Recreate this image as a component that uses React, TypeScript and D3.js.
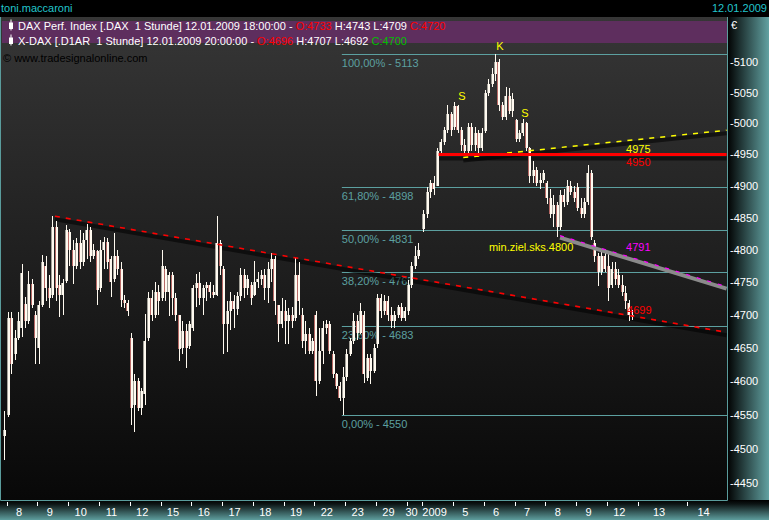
import { useEffect, useRef } from "react";
import * as d3 from "d3";

// open, high, low, close
type Bar = [number, number, number, number];

const dec05: Bar[] = [[4518, 4555, 4483, 4527]];
const dec08: Bar[] = [
  [4550, 4704, 4547, 4694], [4695, 4704, 4610, 4625], [4640, 4676, 4631, 4665],
  [4665, 4704, 4661, 4690], [4680, 4777, 4666, 4764], [4716, 4726, 4680, 4690],
  [4690, 4767, 4686, 4747], [4747, 4755, 4710, 4715], [4700, 4706, 4625, 4665],
];
const dec09: Bar[] = [
  [4650, 4721, 4625, 4715], [4715, 4792, 4711, 4780], [4775, 4790, 4720, 4740],
  [4740, 4760, 4710, 4725], [4730, 4852, 4725, 4835], [4835, 4845, 4720, 4740],
  [4745, 4760, 4696, 4730], [4730, 4755, 4700, 4748], [4752, 4838, 4748, 4830],
];
const dec10: Bar[] = [
  [4828, 4832, 4775, 4800], [4800, 4815, 4747, 4775], [4775, 4818, 4770, 4810],
  [4810, 4830, 4770, 4780], [4780, 4825, 4775, 4815], [4815, 4840, 4785, 4830],
  [4830, 4835, 4780, 4790], [4790, 4808, 4785, 4800], [4798, 4800, 4714, 4738],
];
const dec11: Bar[] = [
  [4740, 4815, 4735, 4800], [4800, 4820, 4770, 4812], [4812, 4818, 4770, 4780],
  [4785, 4790, 4727, 4750], [4755, 4825, 4750, 4790], [4790, 4800, 4760, 4770],
  [4770, 4780, 4712, 4722], [4722, 4730, 4710, 4718], [4718, 4722, 4698, 4705],
];
const dec12: Bar[] = [
  [4665, 4672, 4535, 4560], [4565, 4610, 4525, 4600], [4600, 4605, 4555, 4560],
  [4560, 4590, 4550, 4585], [4580, 4701, 4565, 4660], [4665, 4735, 4660, 4725],
  [4725, 4738, 4690, 4700], [4700, 4750, 4695, 4735], [4735, 4745, 4700, 4720],
];
const dec15: Bar[] = [
  [4725, 4800, 4720, 4775], [4770, 4775, 4720, 4735], [4735, 4765, 4698, 4760],
  [4760, 4765, 4700, 4725], [4725, 4733, 4690, 4700], [4700, 4700, 4630, 4648],
  [4650, 4690, 4640, 4675], [4675, 4685, 4620, 4650], [4652, 4690, 4648, 4685],
];
const dec16: Bar[] = [
  [4680, 4745, 4675, 4740], [4740, 4762, 4712, 4748], [4748, 4765, 4715, 4725],
  [4725, 4745, 4700, 4740], [4740, 4750, 4720, 4745], [4745, 4750, 4725, 4735],
  [4735, 4745, 4725, 4730], [4730, 4852, 4728, 4810], [4810, 4815, 4760, 4775],
];
const dec17: Bar[] = [
  [4770, 4775, 4640, 4685], [4685, 4720, 4643, 4705], [4705, 4735, 4676, 4720],
  [4720, 4730, 4680, 4708], [4708, 4735, 4700, 4728], [4728, 4772, 4720, 4760],
  [4760, 4770, 4725, 4740], [4740, 4760, 4730, 4755], [4745, 4750, 4715, 4725],
];
const dec18: Bar[] = [
  [4730, 4782, 4728, 4750], [4750, 4765, 4740, 4755], [4755, 4768, 4745, 4760],
  [4760, 4770, 4722, 4740], [4740, 4780, 4718, 4770], [4770, 4795, 4750, 4785],
  [4785, 4790, 4700, 4720], [4715, 4715, 4658, 4685], [4685, 4725, 4680, 4705],
];
const dec19: Bar[] = [
  [4705, 4722, 4655, 4690], [4690, 4710, 4655, 4700], [4700, 4712, 4680, 4690],
  [4695, 4787, 4690, 4760], [4760, 4780, 4700, 4720], [4700, 4710, 4650, 4660],
  [4660, 4690, 4640, 4670], [4670, 4680, 4640, 4645], [4645, 4665, 4640, 4660],
];
const dec22: Bar[] = [
  [4700, 4705, 4578, 4600], [4600, 4680, 4595, 4645], [4645, 4690, 4625, 4680],
  [4680, 4692, 4670, 4685], [4685, 4690, 4640, 4645], [4640, 4645, 4605, 4610],
  [4610, 4612, 4588, 4592], [4592, 4598, 4570, 4575], [4575, 4621, 4550, 4606],
];
const dec23: Bar[] = [
  [4606, 4648, 4600, 4640], [4640, 4665, 4638, 4660], [4660, 4703, 4655, 4690],
  [4690, 4700, 4662, 4672], [4672, 4718, 4670, 4705], [4700, 4705, 4597, 4610],
  [4605, 4640, 4600, 4635], [4635, 4640, 4595, 4615], [4615, 4655, 4612, 4650],
];
const dec29: Bar[] = [
  [4655, 4732, 4650, 4725], [4725, 4732, 4695, 4705], [4705, 4730, 4700, 4720],
  [4720, 4728, 4690, 4700], [4700, 4712, 4680, 4690], [4690, 4705, 4680, 4700],
  [4700, 4715, 4695, 4712], [4712, 4718, 4690, 4695], [4695, 4712, 4690, 4705],
];
const dec30: Bar[] = [
  [4705, 4753, 4700, 4745], [4745, 4780, 4740, 4775], [4775, 4805, 4770, 4790],
  [4790, 4810, 4785, 4800],
];
const jan02: Bar[] = [
  [4832, 4862, 4828, 4856], [4856, 4898, 4850, 4890], [4890, 4910, 4880, 4905],
  [4905, 4915, 4885, 4895], [4900, 4960, 4900, 4955], [4955, 4975, 4950, 4970],
  [4970, 4995, 4965, 4990], [4990, 5030, 4985, 5015], [5015, 5018, 4980, 4990],
];
const jan05: Bar[] = [
  [4995, 5035, 4990, 5028], [5028, 5030, 4985, 4990], [4990, 4995, 4955, 4965],
  [4965, 4975, 4950, 4955], [4955, 5000, 4950, 4995], [4995, 5000, 4955, 4965],
  [4965, 4995, 4955, 4985], [4985, 4990, 4952, 4960], [4960, 4992, 4955, 4985],
];
const jan06: Bar[] = [
  [4988, 5055, 4985, 5050], [5050, 5072, 5045, 5065], [5065, 5090, 5060, 5080],
  [5080, 5113, 5070, 5100], [5100, 5105, 5020, 5030], [5030, 5035, 5005, 5010],
  [5010, 5060, 5005, 5045], [5045, 5058, 5015, 5020], [5020, 5050, 5010, 5040],
];
const jan07: Bar[] = [
  [5005, 5008, 4970, 4975], [4975, 4990, 4970, 4985], [4985, 5008, 4980, 5000],
  [5000, 5003, 4955, 4960], [4960, 4962, 4905, 4915], [4915, 4940, 4905, 4925],
  [4925, 4930, 4900, 4905], [4905, 4920, 4895, 4910], [4910, 4925, 4905, 4920],
];
const jan08: Bar[] = [
  [4905, 4908, 4872, 4880], [4880, 4895, 4850, 4855], [4855, 4885, 4835, 4870],
  [4870, 4875, 4820, 4835], [4835, 4893, 4830, 4885], [4885, 4895, 4866, 4875],
  [4875, 4910, 4870, 4900], [4900, 4908, 4885, 4890], [4890, 4900, 4875, 4880],
];
const jan09: Bar[] = [
  [4898, 4905, 4860, 4865], [4865, 4880, 4850, 4855], [4855, 4880, 4850, 4875],
  [4875, 4933, 4870, 4920], [4920, 4925, 4815, 4820], [4810, 4815, 4780, 4790],
  [4790, 4795, 4743, 4765], [4765, 4797, 4760, 4790], [4790, 4800, 4765, 4770],
];
const jan12: Bar[] = [
  [4775, 4795, 4720, 4740], [4745, 4780, 4740, 4770], [4770, 4780, 4745, 4755],
  [4760, 4770, 4740, 4745], [4745, 4760, 4728, 4735], [4733, 4743, 4709, 4720],
  [4718, 4722, 4690, 4700], [4696, 4707, 4692, 4700],
];

const sessions = [dec05, dec08, dec09, dec10, dec11, dec12, dec15, dec16, dec17, dec18, dec19,
  dec22, dec23, dec29, dec30, jan02, jan05, jan06, jan07, jan08, jan09, jan12];
const sessionStarts = [-1, 0, 9, 18, 27, 36, 45, 54, 63, 72, 81, 90, 99, 108, 117,
  121.5, 130.5, 139.5, 148.5, 157.5, 166.5, 175.5];

const dayLabels = ["8", "9", "10", "11", "12", "15", "16", "17", "18", "19", "22", "23", "29",
  "30", "2009", "5", "6", "7", "8", "9", "12", "13", "14"];
const daySlots = [0, 9, 18, 27, 36, 45, 54, 63, 72, 81, 90, 99, 108, 117, 121.5, 130.5,
  139.5, 148.5, 157.5, 166.5, 175.5, 184.5, 198.8];
const slotEnd = 210.5;

const yTicks = [5100, 5050, 5000, 4950, 4900, 4850, 4800, 4750, 4700, 4650, 4600, 4550, 4500, 4450];

const fibPercents = [100, 61.8, 50, 38.2, 23.6, 0];
const fibPrices = [5113, 4898, 4831, 4765, 4683, 4550];
const fibStart = 98;

// [slot, price] end points
const downTrend = [[14.1, 4852], [210.5, 4673]];
const neckline = [[126.3, 4950], [210.5, 4950]];
const upperLine = [[133.5, 4945], [210.5, 4989]];
const targetLine = [[161.8, 4820], [210.5, 4741]];

const notes = [
  { t: 141, p: 4797, text: "min.ziel.sks.4800", color: "#ffff00", anchor: "start" },
  { t: 181.1, p: 4797, text: "4791", color: "#ff00ff", anchor: "start" },
  { t: 181.1, p: 4952, text: "4975", color: "#ffff00", anchor: "start" },
  { t: 181.1, p: 4931, text: "4950", color: "#ff0000", anchor: "start" },
  { t: 181.4, p: 4701, text: "4699", color: "#ff0000", anchor: "start" },
  { t: 133.1, p: 5038, text: "S", color: "#ffff00", anchor: "middle" },
  { t: 144.2, p: 5120, text: "K", color: "#ffff00", anchor: "middle" },
  { t: 151.5, p: 5011, text: "S", color: "#ffff00", anchor: "middle" },
];

const W = 769;
const H = 520;
const FONT = "'Liberation Sans', Arial, sans-serif";

export default function App() {
  const svgRef = useRef<SVGSVGElement>(null);

  useEffect(() => {
    document.body.style.margin = "0";
    if (!svgRef.current) return;
    const svg = d3.select(svgRef.current);
    svg.selectAll("*").remove();

    const plot = { left: 0, right: 727, top: 17, bottom: 500 };
    const x = d3.scaleLinear().domain([0, slotEnd]).range([6.7, 726.6]);
    const y = d3.scaleLog().domain([4450, 5100]).range([483.3, 62.3]);
    const step = x(1) - x(0);

    const defs = svg.append("defs");
    const bg = defs.append("linearGradient").attr("id", "bg").attr("x1", 0).attr("y1", 0).attr("x2", 0).attr("y2", 1);
    bg.append("stop").attr("offset", 0).attr("stop-color", "#363636");
    bg.append("stop").attr("offset", 1).attr("stop-color", "#080808");
    const side = defs.append("linearGradient").attr("id", "side").attr("x1", 0).attr("y1", 0).attr("x2", 1).attr("y2", 0);
    side.append("stop").attr("offset", 0).attr("stop-color", "#000000");
    side.append("stop").attr("offset", 1).attr("stop-color", "#62a2a2");
    const foot = defs.append("linearGradient").attr("id", "foot").attr("x1", 0).attr("y1", 0).attr("x2", 0).attr("y2", 1);
    foot.append("stop").attr("offset", 0).attr("stop-color", "#000000");
    foot.append("stop").attr("offset", 0.2).attr("stop-color", "#0c1414");
    foot.append("stop").attr("offset", 1).attr("stop-color", "#5e9e9e");
    defs.append("clipPath").attr("id", "plotclip").append("rect")
      .attr("x", plot.left).attr("y", plot.top).attr("width", plot.right - plot.left).attr("height", plot.bottom - plot.top);

    // panels
    svg.append("rect").attr("width", W).attr("height", H).attr("fill", "#000");
    svg.append("rect").attr("x", plot.left).attr("y", plot.top)
      .attr("width", plot.right - plot.left).attr("height", plot.bottom - plot.top).attr("fill", "url(#bg)");
    svg.append("rect").attr("x", plot.right).attr("y", plot.top)
      .attr("width", W - plot.right).attr("height", plot.bottom - plot.top).attr("fill", "url(#side)");
    svg.append("rect").attr("x", 0).attr("y", plot.bottom)
      .attr("width", W).attr("height", H - plot.bottom).attr("fill", "url(#foot)");
    svg.append("path")
      .attr("d", `M${plot.left + 0.5},${plot.top}V${plot.bottom + 0.5}H${plot.right + 0.5}V${plot.top}`)
      .attr("fill", "none").attr("stroke", "#5a9c9c").attr("stroke-width", 1);

    // header
    svg.append("text").attr("x", 1).attr("y", 12).attr("fill", "#22c4cc")
      .attr("font-family", FONT).attr("font-size", 11).text("toni.maccaroni");
    svg.append("text").attr("x", 767).attr("y", 12).attr("text-anchor", "end").attr("fill", "#22c4cc")
      .attr("font-family", FONT).attr("font-size", 11).text("12.01.2009");
    svg.append("rect").attr("x", 2).attr("y", 21).attr("width", plot.right - 2).attr("height", 22).attr("fill", "#5e2e5e");

    const legend = [
      { y: 30, parts: [["DAX Perf. Index [.DAX  1 Stunde] 12.01.2009 18:00:00 - ", "#fff"], ["O:4733", "#ff0000"],
        [" H:4743 L:4709 ", "#fff"], ["C:4720", "#ff0000"]] },
      { y: 45, parts: [["X-DAX [.D1AR  1 Stunde] 12.01.2009 20:00:00 - ", "#fff"], ["O:4696", "#ff0000"],
        [" H:4707 L:4692 ", "#fff"], ["C:4700", "#00c000"]] },
    ];
    legend.forEach((row) => {
      svg.append("rect").attr("x", 10.5).attr("y", row.y - 10.5).attr("width", 1).attr("height", 11).attr("fill", "#fff");
      svg.append("rect").attr("x", 9).attr("y", row.y - 7.5).attr("width", 4).attr("height", 6.5).attr("fill", "#fff");
      const t = svg.append("text").attr("x", 18).attr("y", row.y).attr("font-family", FONT).attr("font-size", 11)
        .attr("xml:space", "preserve").style("white-space", "pre");
      row.parts.forEach(([s, c]) => t.append("tspan").attr("fill", c).text(s));
    });
    svg.append("text").attr("x", 3).attr("y", 62).attr("fill", "#000")
      .attr("font-family", FONT).attr("font-size", 11).text("\u00a9 www.tradesignalonline.com");
    svg.append("text").attr("x", 731).attr("y", 29).attr("fill", "#fff")
      .attr("font-family", FONT).attr("font-size", 11).text("\u20ac");

    // y axis labels
    svg.append("g").selectAll("text").data(yTicks).join("text")
      .attr("x", 730).attr("y", (d) => y(d) + 4)
      .attr("fill", "#fff").attr("font-family", FONT).attr("font-size", 11)
      .text((d) => `-${d}`);

    // x axis ticks + labels
    const xa = svg.append("g");
    xa.selectAll("line").data(daySlots).join("line")
      .attr("x1", (d) => Math.round(x(d)) + 0.5).attr("x2", (d) => Math.round(x(d)) + 0.5)
      .attr("y1", 502).attr("y2", 506).attr("stroke", "#fff");
    xa.selectAll("text").data(dayLabels).join("text")
      .attr("x", (d, i) => (x(daySlots[i]) + x(i + 1 < daySlots.length ? daySlots[i + 1] : slotEnd)) / 2 - 3)
      .attr("y", 516).attr("text-anchor", "middle")
      .attr("fill", "#fff").attr("font-family", FONT).attr("font-size", 11)
      .text((d) => d);

    const g = svg.append("g").attr("clip-path", "url(#plotclip)");

    // fibonacci levels
    g.selectAll("line.fib").data(fibPrices).join("line").attr("class", "fib")
      .attr("x1", x(fibStart)).attr("x2", plot.right)
      .attr("y1", (d) => Math.round(y(d)) + 0.5).attr("y2", (d) => Math.round(y(d)) + 0.5)
      .attr("stroke", "#5ca0a0").attr("stroke-width", 1.2);
    g.selectAll("text.fib").data(fibPrices).join("text").attr("class", "fib")
      .attr("x", x(fibStart)).attr("y", (d) => y(d) + 13)
      .attr("fill", "#5ca0a0").attr("font-family", FONT).attr("font-size", 11)
      .text((d, i) => `${fibPercents[i].toFixed(2).replace(".", ",")}% - ${d}`);

    const seg = (pts: number[][], dy = 0) =>
      `M${x(pts[0][0])},${y(pts[0][1]) + dy}L${x(pts[1][0])},${y(pts[1][1]) + dy}`;

    // shadows
    [downTrend, upperLine].forEach((l) =>
      g.append("path").attr("d", seg(l, 3)).attr("stroke", "#000").attr("stroke-opacity", 0.55)
        .attr("stroke-width", 4).attr("fill", "none"));
    g.append("path").attr("d", seg(neckline, 4)).attr("stroke", "#000").attr("stroke-opacity", 0.55)
      .attr("stroke-width", 4).attr("fill", "none");

    // candles
    const candles = sessions.flatMap((bars, si) =>
      bars.map((b, j) => ({ t: sessionStarts[si] + j, o: b[0], h: b[1], l: b[2], c: b[3] })));
    const cg = g.append("g").attr("shape-rendering", "crispEdges");
    cg.selectAll("rect.wick").data(candles).join("rect").attr("class", "wick")
      .attr("x", (d) => Math.round(x(d.t) + step / 2 - 0.5)).attr("width", 1)
      .attr("y", (d) => y(d.h)).attr("height", (d) => Math.max(1, y(d.l) - y(d.h)))
      .attr("fill", "#fffaf0");
    cg.selectAll("rect.body").data(candles).join("rect").attr("class", "body")
      .attr("x", (d) => Math.round(x(d.t))).attr("width", 3)
      .attr("y", (d) => y(Math.max(d.o, d.c)))
      .attr("height", (d) => Math.max(1, Math.abs(y(d.o) - y(d.c))))
      .attr("fill", "#fffaf0");
    cg.selectAll("rect.edge").data(candles).join("rect").attr("class", "edge")
      .attr("x", (d) => Math.round(x(d.t))).attr("width", 1)
      .attr("y", (d) => y(Math.max(d.o, d.c)))
      .attr("height", (d) => Math.max(1, Math.abs(y(d.o) - y(d.c))))
      .attr("fill", (d) => (d.c >= d.o ? "#a3a199" : "#b86a66"));

    // trend lines
    g.append("path").attr("d", seg(downTrend)).attr("stroke", "#ff0000").attr("stroke-width", 1.6)
      .attr("stroke-dasharray", "5,6").attr("fill", "none");
    g.append("path").attr("d", seg(upperLine)).attr("stroke", "#ffff00").attr("stroke-width", 1.5)
      .attr("stroke-dasharray", "5,6").attr("fill", "none");
    g.append("path").attr("d", seg(neckline)).attr("stroke", "#ff0000").attr("stroke-width", 3).attr("fill", "none");
    g.append("path").attr("d", seg(targetLine, 1)).attr("stroke", "#8a8a8a").attr("stroke-width", 4).attr("fill", "none");
    g.append("path").attr("d", seg(targetLine, -1)).attr("stroke", "#ff00ff").attr("stroke-width", 1.2)
      .attr("stroke-dasharray", "4,7").attr("fill", "none");

    // annotations
    g.selectAll("text.note").data(notes).join("text").attr("class", "note")
      .attr("x", (d) => x(d.t)).attr("y", (d) => y(d.p))
      .attr("text-anchor", (d) => d.anchor).attr("fill", (d) => d.color)
      .attr("font-family", FONT).attr("font-size", 11).text((d) => d.text);
  }, []);

  return (
    <svg
      ref={svgRef}
      width={W}
      height={H}
      style={{ display: "block", position: "absolute", left: 0, top: 0 }}
    />
  );
}
